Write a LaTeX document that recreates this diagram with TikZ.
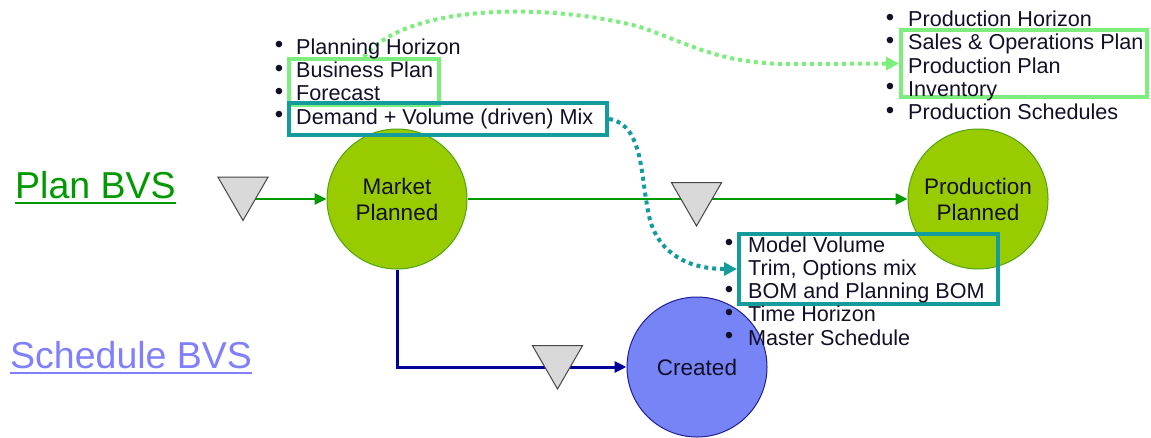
\documentclass[tikz,border=0pt]{standalone}
\usepackage{fontspec}
\setmainfont{Liberation Sans}
\usetikzlibrary{arrows.meta,shapes.geometric}
\definecolor{gfill}{RGB}{153,204,0}
\definecolor{gedge}{RGB}{80,165,20}
\definecolor{gline}{RGB}{0,153,0}
\definecolor{bfill}{RGB}{118,132,246}
\definecolor{bedge}{RGB}{30,30,150}
\definecolor{bline}{RGB}{0,0,153}
\definecolor{lgreen}{RGB}{125,238,125}
\definecolor{tealc}{RGB}{20,155,155}
\definecolor{trifill}{RGB}{217,217,217}
\definecolor{triedge}{RGB}{70,70,70}
\definecolor{txt}{RGB}{20,15,40}
\definecolor{plancol}{RGB}{0,153,0}
\definecolor{schedcol}{RGB}{128,128,255}
\pgfdeclarelayer{paper}
\pgfdeclarelayer{bg}
\pgfsetlayers{paper,bg,main}
\begin{document}
\begin{tikzpicture}[x=1pt,y=-1pt,
  state/.style={circle,minimum size=140pt,inner sep=0pt,align=center,
    font=\fontsize{22.5}{26}\selectfont,line width=1pt,text=txt},
  gstate/.style={state,fill=gfill,draw=gedge},
  bstate/.style={state,fill=bfill,draw=bedge},
  tri/.style={regular polygon,regular polygon sides=3,shape border rotate=180,
    minimum size=58pt,inner sep=0pt,fill=trifill,draw=triedge,line width=1pt},
  gconn/.style={draw=gline,line width=2.5pt,-{Triangle[length=12pt,width=11pt]}},
  bconn/.style={draw=bline,line width=3pt,-{Triangle[length=12pt,width=11pt]}},
  lgbox/.style={rectangle,draw=lgreen,line width=4pt,inner sep=0pt},
  tbox/.style={rectangle,draw=tealc,line width=4pt,inner sep=0pt},
  lgdot/.style={draw=lgreen,line width=4pt,dash pattern=on 4pt off 4pt,
    -{Triangle[length=13pt,width=13pt]}},
  tdot/.style={draw=tealc,line width=4pt,dash pattern=on 4pt off 4pt,
    -{Triangle[length=13pt,width=13pt]}},
  item/.style={anchor=base west,inner sep=0pt,text=txt,font=\fontsize{21.6}{23}\selectfont},
  bul/.style={anchor=center,inner sep=0pt,text=txt,font=\fontsize{24}{24}\selectfont},
  title/.style={anchor=base west,inner sep=0pt,font=\fontsize{37.5}{40}\selectfont}
]
\begin{pgfonlayer}{paper}
\fill[white] (0,0) rectangle (1151,437);
\end{pgfonlayer}
\useasboundingbox (0,0) rectangle (1151,437);

% titles
\node[title,text=plancol] (plan) at (15,198) {Plan BVS};
\draw[plancol,line width=2.2pt] ([yshift=-5pt]plan.base west) -- ([yshift=-5pt]plan.base east);
\node[title,text=schedcol] (sched) at (10,368) {Schedule BVS};
\draw[schedcol,line width=2pt] ([yshift=-5pt]sched.base west) -- ([yshift=-5pt]sched.base east);

% states
\node[gstate] (mp) at (397,199) {Market\\Planned};
\node[gstate] (pp) at (978,199) {Production\\Planned};
\node[bstate] (cr) at (697,367) {Created};

% triangles
\node[tri] (t1) at (243,191.5) {};
\node[tri] (t2) at (696.5,197) {};
\node[tri] (t3) at (557.5,360) {};

% connectors (behind)
\begin{pgfonlayer}{bg}
\draw[gconn] (t1.center |- mp.west) -- (mp.west);
\draw[gconn] (mp.east) -- (pp.west);
\draw[bconn] (mp.south) |- (cr.west);
\end{pgfonlayer}

% highlight boxes
\node[lgbox,minimum width=150pt,minimum height=46pt] (b1) at (364,82) {};
\node[tbox,minimum width=318pt,minimum height=32pt] (b2) at (448,119) {};
\node[lgbox,minimum width=246pt,minimum height=67pt] (b3) at (1024,63.5) {};
\node[tbox,minimum width=259pt,minimum height=70pt] (b4) at (868.5,269) {};

% dotted connectors
\draw[lgdot] (b1.north) .. controls (410,0) and (560,5) .. (640,27)
  .. controls (690,44) and (720,64) .. (790,64) -- (b3.west);
\draw[tdot] (b2.east) .. controls (645,125) and (640,180) .. (650,220)
  .. controls (660,255) and (690,269) .. (b4.west);

% left block
\node[bul] (lb1) at (279,47.3) {•};
\node[item] (li1) at (296,54.3) {Planning Horizon};
\node[bul] (lb2) at (279,70.6) {•};
\node[item] (li2) at (296,77.6) {Business Plan};
\node[bul] (lb3) at (279,93.9) {•};
\node[item] (li3) at (296,100.9) {Forecast};
\node[bul] (lb4) at (279,117.2) {•};
\node[item] (li4) at (296,124.2) {Demand + Volume (driven) Mix};

% right block
\node[bul] (rb1) at (890,19.7) {•};
\node[item] (ri1) at (908,26.7) {Production Horizon};
\node[bul] (rb2) at (890,42.9) {•};
\node[item] (ri2) at (908,49.9) {Sales \& Operations Plan};
\node[item] (ri3) at (908,73.1) {Production Plan};
\node[bul] (rb4) at (890,89.3) {•};
\node[item] (ri4) at (908,96.3) {Inventory};
\node[bul] (rb5) at (890,112.5) {•};
\node[item] (ri5) at (908,119.5) {Production Schedules};

% lower block
\node[bul] (mb1) at (729,245.3) {•};
\node[item] (mi1) at (748,252.3) {Model Volume};
\node[item] (mi2) at (748,275.5) {Trim, Options mix};
\node[bul] (mb3) at (729,291.7) {•};
\node[item] (mi3) at (748,298.7) {BOM and Planning BOM};
\node[bul] (mb4) at (729,314.9) {•};
\node[item] (mi4) at (748,321.9) {Time Horizon};
\node[bul] (mb5) at (729,338.1) {•};
\node[item] (mi5) at (748,345.1) {Master Schedule};
\end{tikzpicture}
\end{document}
